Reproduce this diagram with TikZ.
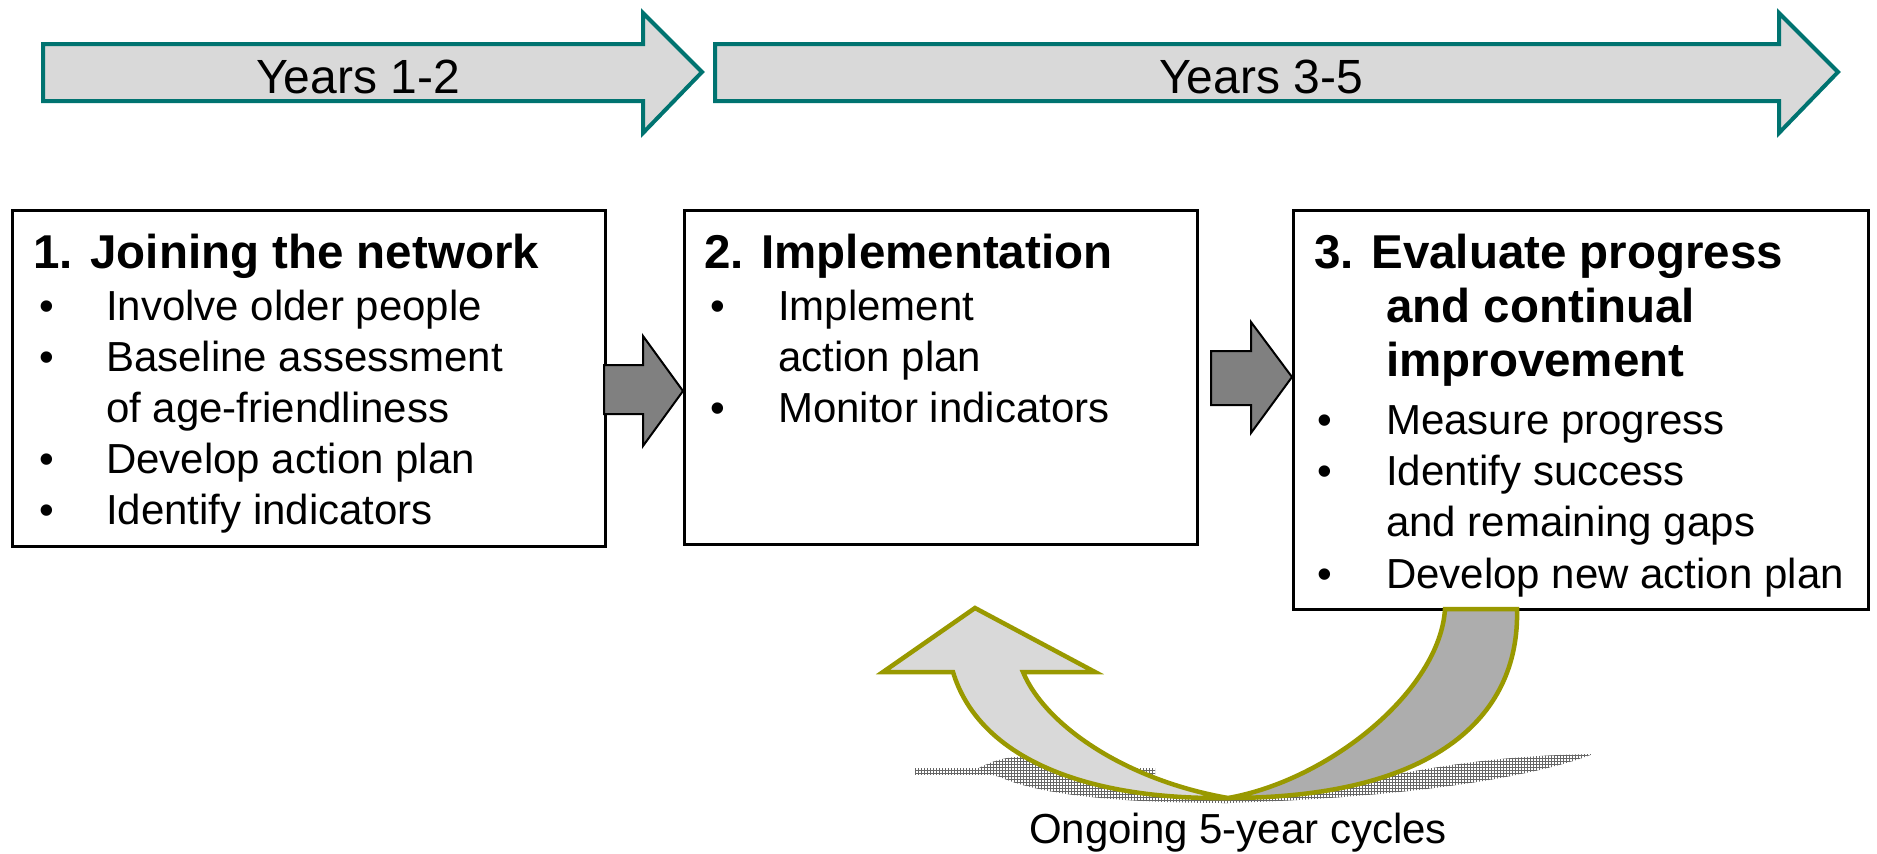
\documentclass[tikz,border=0pt]{standalone}
\usepackage{fontspec}
\setmainfont{Liberation Sans}
\usetikzlibrary{patterns}
\definecolor{tealA}{RGB}{0,115,112}
\definecolor{oliveA}{RGB}{153,153,0}
\definecolor{lgrayA}{RGB}{217,217,217}
\definecolor{dgrayA}{RGB}{173,173,173}
\definecolor{mgrayA}{RGB}{128,128,128}
\newcommand\bodyf{\fontsize{42}{50}\selectfont}
\newcommand\headf{\fontsize{47.5}{56}\selectfont\bfseries}
\newcommand\yearf{\fontsize{48}{56}\selectfont}
\begin{document}
\begin{tikzpicture}[x=1pt,y=-1pt,
  tl/.style={inner sep=0pt, anchor=base west, font=\bodyf},
  hd/.style={inner sep=0pt, anchor=base west, font=\headf},
  stepbox/.style={draw=black, line width=2.5pt, fill=white, inner sep=0pt, anchor=north west},
  yeararrow/.style={draw=tealA, line width=4pt, fill=lgrayA, line join=miter},
  grayarrow/.style={draw=black, line width=2pt, fill=mgrayA, line join=miter},
  cyc/.style={draw=oliveA, line width=4.5pt, line join=miter},
  shad/.style={pattern=grid, pattern color=black!60}]
\useasboundingbox (0,0) rectangle (1877,854);

% timeline arrows
\draw[yeararrow] (43,44) -- (643,44) -- (643,13) -- (702,72) -- (643,133) -- (643,101) -- (43,101) -- cycle;
\draw[yeararrow] (715,44) -- (1779,44) -- (1779,13) -- (1838,72) -- (1779,133) -- (1779,101) -- (715,101) -- cycle;
\node[font=\yearf, anchor=base, inner sep=0pt] (y1) at (358,93) {Years 1-2};
\node[font=\yearf, anchor=base, inner sep=0pt] (y2) at (1261,93) {Years 3-5};

% boxes
\node[stepbox, minimum width=593pt, minimum height=336pt] (b1) at (11,209) {};
\node[stepbox, minimum width=513pt, minimum height=334pt] (b2) at (683,209) {};
\node[stepbox, minimum width=575pt, minimum height=399pt] (b3) at (1292,209) {};

% box 1 text
\node[hd] (h1) at (33,268) {1. Joining the network};
\node[tl] (p11) at (39,320) {•};
\node[tl] (t11) at (106,320) {Involve older people};
\node[tl] (p12) at (39,371) {•};
\node[tl] (t12) at (106,371) {Baseline assessment};
\node[tl] (t13) at (106,422) {of age-friendliness};
\node[tl] (p14) at (39,473) {•};
\node[tl] (t14) at (106,473) {Develop action plan};
\node[tl] (p15) at (39,524) {•};
\node[tl] (t15) at (106,524) {Identify indicators};

% box 2 text
\node[hd] (h2) at (704,268) {2. Implementation};
\node[tl] (p21) at (710,320) {•};
\node[tl] (t21) at (778,320) {Implement};
\node[tl] (t22) at (778,371) {action plan};
\node[tl] (p23) at (710,422) {•};
\node[tl] (t23) at (778,422) {Monitor indicators};

% box 3 text
\node[hd] (h3) at (1314,268) {3. Evaluate progress};
\node[hd] (h3b) at (1386,322) {and continual};
\node[hd] (h3c) at (1386,376) {improvement};
\node[tl] (p31) at (1317,434) {•};
\node[tl] (t31) at (1386,434) {Measure progress};
\node[tl] (p32) at (1317,485) {•};
\node[tl] (t32) at (1386,485) {Identify success};
\node[tl] (t33) at (1386,536) {and remaining gaps};
\node[tl] (p34) at (1317,588) {•};
\node[tl] (t34) at (1386,588) {Develop new action plan};

% gray block arrows between boxes
\draw[grayarrow] (604,365) -- (643,365) -- (643,336) -- (683,391) -- (643,446) -- (643,414) -- (604,414) -- cycle;
\draw[grayarrow] (1211,351) -- (1251,351) -- (1251,322) -- (1292,377) -- (1251,433) -- (1251,405) -- (1211,405) -- cycle;

% shadow
\fill[shad] (915,768) rectangle (1155,774);
\fill[shad] (975,770) .. controls (990,762) and (1005,756) .. (1025,757) -- (1228,797) -- (1330,787) .. controls (1420,770) and (1480,756) .. (1593,754) .. controls (1540,775) and (1420,797) .. (1228,803) .. controls (1120,803) and (1040,795) .. (1000,777) -- cycle;

% cycle arrow
\draw[cyc, fill=dgrayA] (1445,609) -- (1517,609) .. controls (1520,720) and (1430,798) .. (1228,798) .. controls (1330,780) and (1440,690) .. (1445,609) -- cycle;
\draw[cyc, fill=lgrayA] (1228,798) .. controls (1080,800) and (978,755) .. (953,672) -- (883,672) -- (975,608) -- (1095,672) -- (1023,672) .. controls (1045,725) and (1125,780) .. (1228,798) -- cycle;
\node[font=\bodyf, anchor=base, inner sep=0pt] (cyc) at (1238,843) {Ongoing 5-year cycles};
\end{tikzpicture}
\end{document}
